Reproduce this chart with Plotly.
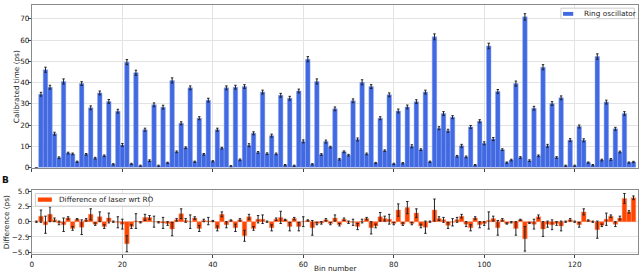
import plotly.graph_objects as go

bins = list(range(1, 134))

ring_osc = [0, 34.5, 46.0, 37.8, 15.9, 4.6, 40.5, 6.8, 6.4, 2.7,
            39.5, 6.2, 28.1, 4.4, 35.1, 5.5, 31.1, 1.5, 26.5, 10.6,
            49.6, 1.7, 44.6, 0.8, 17.8, 3.2, 29.5, 0.8, 28.4, 2.2,
            41.0, 7.4, 20.8, 9.3, 37.5, 2.7, 23.2, 6.2, 31.7, 2.9,
            17.8, 9.1, 37.5, 0.6, 37.8, 3.6, 38.1, 10.5, 16.1, 7.1,
            35.5, 6.5, 15.0, 6.4, 34.0, 1.1, 32.6, 0.8, 36.0, 12.3,
            51.0, 1.5, 40.5, 6.1, 12.2, 9.6, 27.6, 3.9, 7.4, 5.8,
            31.4, 13.2, 40.1, 6.4, 38.1, 2.1, 23.2, 7.9, 34.2, 1.7,
            26.6, 2.0, 28.5, 10.0, 31.0, 8.4, 35.5, 2.7, 61.5, 18.5,
            25.4, 17.3, 23.7, 5.3, 10.2, 5.0, 19.1, 1.1, 21.8, 11.4,
            57.2, 13.4, 35.8, 8.4, 2.3, 3.5, 39.5, 4.7, 70.9, 3.2,
            27.9, 5.5, 47.2, 10.2, 30.1, 4.7, 32.8, 0.8, 12.9, 0.8,
            19.3, 12.8, 2.3, 1.1, 52.2, 3.5, 30.8, 3.8, 18.2, 7.3,
            25.4, 2.3, 2.6]

ring_err = [0.0, 0.9, 1.2, 0.9, 0.7, 0.4, 1.2, 0.4, 0.4, 0.3,
            0.9, 0.4, 0.9, 0.4, 0.9, 0.4, 0.9, 0.3, 0.9, 0.7,
            1.2, 0.3, 1.2, 0.3, 0.7, 0.4, 0.9, 0.3, 0.9, 0.3,
            1.2, 0.4, 0.7, 0.4, 0.9, 0.3, 0.7, 0.4, 0.9, 0.3,
            0.7, 0.4, 0.9, 0.3, 0.9, 0.4, 0.9, 0.7, 0.7, 0.4,
            0.9, 0.4, 0.7, 0.4, 0.9, 0.3, 0.9, 0.3, 0.9, 0.7,
            1.2, 0.3, 1.2, 0.4, 0.7, 0.4, 0.9, 0.4, 0.4, 0.4,
            0.9, 0.7, 1.2, 0.4, 0.9, 0.3, 0.7, 0.4, 0.9, 0.3,
            0.9, 0.3, 0.9, 0.7, 0.9, 0.4, 0.9, 0.3, 1.4, 0.7,
            0.9, 0.7, 0.7, 0.4, 0.7, 0.4, 0.7, 0.3, 0.7, 0.7,
            1.3, 0.7, 0.9, 0.4, 0.3, 0.4, 1.2, 0.4, 1.5, 0.4,
            0.9, 0.4, 1.2, 0.7, 0.9, 0.4, 0.9, 0.3, 0.7, 0.3,
            0.7, 0.7, 0.3, 0.3, 1.3, 0.4, 0.9, 0.4, 0.7, 0.4,
            0.9, 0.3, 0.3]

diff = [0.0, 0.9, -0.5, 1.2, 0.3, -0.2, -0.5, 0.6, -1.1, 0.4,
        -0.9, 0.3, 1.2, -0.4, 0.8, -0.8, 0.6, 0.0, -0.1, -0.4,
        -3.6, -0.8, 0.1, -0.1, 0.7, 0.7, 0.0, -0.1, -0.2, -0.3,
        -1.2, 0.3, 1.3, 0.2, 0.0, 0.6, -1.1, 0.2, 0.1, 0.1,
        -1.1, 1.2, -0.5, 0.2, -1.0, 0.3, -2.3, 0.8, -1.1, 0.4,
        0.4, 0.0, -1.0, 0.4, 0.7, 0.3, -0.8, 0.5, -0.8, 0.0,
        0.2, -1.0, -0.3, -0.2, 0.3, -0.3, 0.6, -0.5, 0.4, -0.1,
        -0.1, -0.8, 0.1, 0.5, -1.0, -0.7, 0.8, 0.5, 0.4, -0.3,
        1.9, -0.4, 2.3, -0.3, 1.4, -0.7, -0.9, 0.0, 1.9, 0.5,
        0.3, -0.6, -0.1, 0.3, 0.9, -0.4, -1.0, 0.6, -0.5, -0.3,
        0.2, 0.5, -1.0, 0.3, -0.3, -0.1, -1.1, 0.3, -2.8, -0.2,
        -0.4, 0.8, -1.2, -0.4, -0.5, -0.3, -0.7, 0.0, 0.3, 0.0,
        -0.5, 1.6, 0.2, 0.0, -1.3, -0.6, 0.4, 0.9, -0.4, 0.6,
        3.8, 1.6, 3.9]

diff_err = [0.1, 1.0, 1.4, 1.2, 0.3, 0.3, 1.1, 0.2, 0.3, 0.1,
            1.2, 0.2, 0.9, 0.2, 0.8, 0.3, 0.8, 0.1, 0.9, 0.8,
            1.3, 0.3, 1.2, 0.1, 0.5, 0.3, 0.9, 0.1, 0.9, 0.3,
            1.1, 0.2, 0.8, 0.3, 1.1, 0.2, 0.5, 0.2, 0.6, 0.1,
            0.4, 0.4, 0.5, 0.1, 0.6, 0.2, 0.9, 0.4, 0.3, 0.6,
            0.7, 0.1, 0.5, 0.2, 1.0, 0.1, 0.7, 0.2, 0.7, 0.8,
            0.1, 1.2, 0.2, 0.2, 0.2, 0.2, 0.5, 0.2, 0.2, 0.2,
            0.5, 0.5, 0.3, 0.2, 1.0, 0.3, 0.7, 0.4, 0.8, 0.2,
            1.0, 0.2, 1.0, 0.2, 0.7, 0.3, 1.0, 0.1, 1.8, 0.3,
            0.4, 0.5, 0.6, 0.4, 0.3, 0.4, 0.5, 0.2, 0.5, 0.3,
            1.4, 0.4, 1.2, 0.2, 0.1, 0.1, 1.1, 0.1, 2.0, 0.1,
            0.8, 0.3, 1.2, 0.5, 0.8, 0.3, 0.8, 0.1, 0.2, 0.1,
            0.4, 0.5, 0.1, 0.1, 1.4, 0.2, 1.0, 0.2, 0.4, 0.3,
            0.8, 0.2, 0.3]

x_ticks = [0, 20, 40, 60, 80, 100, 120]
y_top_ticks = [0, 10, 20, 30, 40, 50, 60, 70]
y_bot_ticks = [-5.0, -2.5, 0.0, 2.5, 5.0]
y_bot_labels = ["\u22125.0", "\u22122.5", "0.0", "2.5", "5.0"]

W, H = 640, 277
FONT = "DejaVu Sans"
FS = 7.3
GRID = "#e3e3e3"
SPINE = "#8a8a8a"
BLUE = "#4169E1"
ORANGE = "#FF4500"


def px(x):
    return x / W


def py(y):
    return 1 - y / H


fig = go.Figure()

fig.add_trace(go.Bar(
    x=bins, y=ring_osc, width=1, name="Ring oscillator", showlegend=False,
    marker=dict(color=BLUE, line=dict(color="rgba(140,165,240,0.9)", width=0.5)),
    error_y=dict(type="data", array=ring_err, color="#222222", thickness=1, width=1.2),
    xaxis="x", yaxis="y", hoverinfo="skip",
))

fig.add_trace(go.Bar(
    x=bins, y=diff, width=1, name="Difference of laser wrt RO", showlegend=False,
    marker=dict(color=ORANGE, line=dict(color="rgba(255,140,100,0.9)", width=0.5)),
    error_y=dict(type="data", array=diff_err, color="#222222", thickness=1, width=1.2),
    xaxis="x2", yaxis="y2", hoverinfo="skip",
))

xdom = [px(30), px(638)]
tickfont = dict(family=FONT, size=FS, color="#222")
common_x = dict(range=[0, 134], tickvals=x_ticks, showgrid=True, gridcolor=GRID, gridwidth=1,
                ticks="outside", ticklen=3, tickcolor="#444", showline=True, mirror=True,
                linecolor=SPINE, linewidth=1, zeroline=False, tickfont=tickfont)
common_y = dict(showgrid=True, gridcolor=GRID, ticks="outside", ticklen=3, tickcolor="#444",
                showline=True, mirror=True, linecolor=SPINE, zeroline=False,
                tickfont=tickfont, ticklabelstandoff=-3)

shapes = [
    dict(type="rect", xref="paper", yref="paper", x0=px(560.7), x1=px(634.3), y0=py(15.2), y1=py(4.3),
         line=dict(color="#cccccc", width=1), fillcolor="rgba(255,255,255,0.85)", layer="above"),
    dict(type="rect", xref="paper", yref="paper", x0=px(562.8), x1=px(573), y0=py(12.2), y1=py(8.2),
         line=dict(width=0), fillcolor=BLUE, layer="above"),
    dict(type="rect", xref="paper", yref="paper", x0=px(33.5), x1=px(148), y0=py(209), y1=py(196),
         line=dict(color="#cccccc", width=1), fillcolor="rgba(255,255,255,0.85)", layer="above"),
    dict(type="rect", xref="paper", yref="paper", x0=px(36), x1=px(50), y0=py(204.4), y1=py(200),
         line=dict(width=0), fillcolor=ORANGE, layer="above"),
]

annotations = [
    dict(text="Ring oscillator", x=px(582), y=py(10.2), xanchor="left", yanchor="middle"),
    dict(text="Difference of laser wrt RO", x=px(55.5), y=py(202.4), xanchor="left", yanchor="middle"),
    dict(text="<b>B</b>", x=px(3.5), y=py(182), xanchor="center", yanchor="middle",
         font=dict(family=FONT, size=9, color="#111")),
    dict(text="Calibrated time (ps)", x=px(14.0), y=py(85), textangle=-90,
         xanchor="center", yanchor="middle"),
    dict(text="Difference (ps)", x=px(4.5), y=py(225), textangle=-90,
         xanchor="center", yanchor="middle"),
    dict(text="Bin number", x=px(334.5), y=py(273), xanchor="center", yanchor="middle"),
]
for a in annotations:
    a.update(xref="paper", yref="paper", showarrow=False)
    a.setdefault("font", dict(family=FONT, size=FS, color="#222"))

fig.update_layout(
    width=W, height=H,
    margin=dict(l=0, r=0, t=0, b=0),
    paper_bgcolor="white", plot_bgcolor="white",
    barmode="overlay", bargap=0, showlegend=False, hovermode=False,
    font=dict(family=FONT, size=FS, color="#222"),
    xaxis=dict(domain=xdom, anchor="y", showticklabels=False, **common_x),
    xaxis2=dict(domain=xdom, anchor="y2", matches="x", showticklabels=True, **common_x),
    yaxis=dict(domain=[py(169), py(1)], anchor="x", range=[0, 76.5],
               tickvals=y_top_ticks, **common_y),
    yaxis2=dict(domain=[py(258.3), py(192.7)], anchor="x2", range=[-5.26, 5.1],
                tickvals=y_bot_ticks, ticktext=y_bot_labels, **common_y),
    shapes=shapes,
    annotations=annotations,
)

fig.write_html(
    "out.html",
    config={"displayModeBar": False, "staticPlot": True},
    post_script="document.body.style.margin='0';document.body.style.padding='0';"
                "document.body.style.overflow='hidden';",
)
